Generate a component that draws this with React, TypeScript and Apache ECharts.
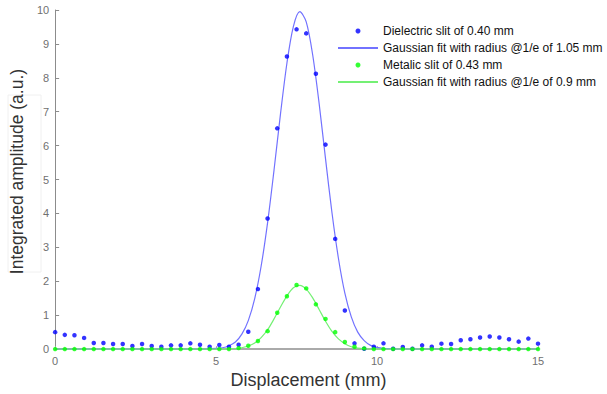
import { useEffect, useRef } from "react";
import * as echarts from "echarts";

// Scan positions (mm), one sample every 0.3 mm
const displacement = [
  0, 0.3, 0.6, 0.9, 1.2, 1.5, 1.8, 2.1, 2.4, 2.7, 3, 3.3, 3.6, 3.9, 4.2, 4.5, 4.8,
  5.1, 5.4, 5.7, 6, 6.3, 6.6, 6.9, 7.2, 7.5, 7.8, 8.1, 8.4, 8.7, 9, 9.3, 9.6, 9.9,
  10.2, 10.5, 10.8, 11.1, 11.4, 11.7, 12, 12.3, 12.6, 12.9, 13.2, 13.5, 13.8, 14.1,
  14.4, 14.7, 15,
];

// Measured integrated amplitude, dielectric slit 0.40 mm
const dielectric = [
  0.5, 0.42, 0.41, 0.33, 0.18, 0.18, 0.15, 0.15, 0.09, 0.15, 0.09, 0.07, 0.11, 0.11,
  0.17, 0.13, 0.07, 0.12, 0.07, 0.13, 0.51, 1.77, 3.85, 6.51, 8.63, 9.43, 9.31, 8.12,
  6.03, 3.25, 1.14, 0.17, 0.01, 0.07, 0.17, 0.01, 0.06, 0.01, 0.11, 0.07, 0.16, 0.15,
  0.26, 0.29, 0.34, 0.37, 0.34, 0.29, 0.22, 0.31, 0.16,
];

// Measured integrated amplitude, metallic slit 0.43 mm
const metallic = [
  0, 0, 0, 0, 0, 0, 0, 0, 0, 0, 0, 0, 0, 0, 0, 0, 0, 0, 0, 0.03, 0.1, 0.24, 0.53, 1.07,
  1.56, 1.89, 1.79, 1.32, 0.89, 0.5, 0.21, 0.07, 0.02, 0, 0, 0, 0, 0, 0, 0, 0, 0, 0, 0,
  0, 0, 0, 0, 0, 0, 0,
];

// Gaussian fit curve, dielectric slit (radius @1/e 1.05 mm)
const dielectricFitX = [
  0, 4.6, 4.8, 5.0, 5.2, 5.4, 5.6, 5.8, 6.0, 6.2, 6.4, 6.6, 6.8, 7.0, 7.2, 7.4, 7.6,
  7.8, 8.0, 8.2, 8.4, 8.6, 8.8, 9.0, 9.2, 9.4, 9.6, 9.8, 10.0, 10.2, 10.4, 10.6, 15,
];
const dielectricFitY = [
  0, 0, 0.01, 0.02, 0.04, 0.1, 0.21, 0.44, 0.84, 1.49, 2.45, 3.73, 5.28, 6.93, 8.43,
  9.51, 9.95, 9.65, 8.68, 7.25, 5.61, 4.02, 2.68, 1.65, 0.95, 0.5, 0.25, 0.11, 0.05,
  0.02, 0.01, 0, 0,
];

// Gaussian fit curve, metallic slit (radius @1/e 0.9 mm)
const metallicFitX = [
  0, 5.2, 5.4, 5.6, 5.8, 6.0, 6.2, 6.4, 6.6, 6.8, 7.0, 7.2, 7.4, 7.6, 7.8, 8.0, 8.2,
  8.4, 8.6, 8.8, 9.0, 9.2, 9.4, 9.6, 9.8, 10.0, 15,
];
const metallicFitY = [
  0, 0, 0.01, 0.01, 0.04, 0.09, 0.18, 0.34, 0.57, 0.89, 1.24, 1.57, 1.81, 1.88, 1.77,
  1.51, 1.17, 0.82, 0.52, 0.3, 0.16, 0.07, 0.03, 0.01, 0, 0, 0,
];

const seriesNames = [
  "Dielectric slit of 0.40 mm",
  "Gaussian fit with radius @1/e of 1.05 mm",
  "Metalic slit of 0.43 mm",
  "Gaussian fit with radius @1/e of 0.9 mm",
];

const pairs = (xs: number[], ys: number[]) => xs.map((x, i) => [x, ys[i]]);

// Legend entry for a fit curve: plain line, no marker in the middle
const lineOnly = { opacity: 0, color: "rgba(0,0,0,0)", borderWidth: 0 };

export default function App() {
  const ref = useRef<HTMLDivElement>(null);

  useEffect(() => {
    const chart = echarts.init(ref.current!, null, { renderer: "svg" });
    chart.setOption({
      animation: false,
      backgroundColor: "#ffffff",
      textStyle: { fontFamily: "'Liberation Sans', Arial, sans-serif" },
      grid: { left: 53, right: 69, top: 10, bottom: 39 },
      legend: {
        orient: "vertical",
        left: 337,
        top: 24,
        padding: 0,
        itemWidth: 40,
        itemHeight: 5,
        itemGap: 3,
        selectedMode: false,
        textStyle: { fontSize: 12, color: "#111111", lineHeight: 14 },
        data: [
          { name: seriesNames[0], icon: "circle" },
          { name: seriesNames[1], itemStyle: lineOnly },
          { name: seriesNames[2], icon: "circle" },
          { name: seriesNames[3], itemStyle: lineOnly },
        ],
      },
      graphic: [
        {
          type: "rect",
          z: -1,
          shape: { x: 8, y: 95, width: 33, height: 177 },
          style: { fill: "none", stroke: "#f0f0f0", lineWidth: 1 },
        },
      ],
      xAxis: {
        type: "value",
        min: 0,
        max: 15,
        interval: 5,
        name: "Displacement (mm)",
        nameLocation: "middle",
        nameGap: 16,
        nameTextStyle: { fontSize: 18, color: "#333333", padding: [0, 0, 0, 24] },
        axisLine: { show: true, lineStyle: { color: "#aaaaaa", width: 2 } },
        axisTick: { show: true, inside: true, length: 3, lineStyle: { color: "#aaaaaa" } },
        axisLabel: { color: "#707070", fontSize: 11, margin: 6 },
        splitLine: { show: false },
      },
      yAxis: {
        type: "value",
        min: 0,
        max: 10,
        interval: 1,
        name: "Integrated amplitude (a.u.)",
        nameLocation: "middle",
        nameGap: 22,
        nameTextStyle: { fontSize: 17.5, color: "#333333", padding: [0, 0, 0, 16] },
        axisLine: { show: true, lineStyle: { color: "#8c8c8c", width: 1 } },
        axisTick: { show: true, inside: true, length: 4, lineStyle: { color: "#8c8c8c" } },
        axisLabel: { color: "#707070", fontSize: 11, margin: 6 },
        splitLine: { show: false },
      },
      series: [
        {
          name: seriesNames[0],
          type: "scatter",
          symbol: "circle",
          symbolSize: 4.5,
          itemStyle: { color: "#0000ff" },
          data: pairs(displacement, dielectric),
          z: 3,
        },
        {
          name: seriesNames[1],
          type: "line",
          symbol: "none",
          showSymbol: false,
          smooth: 0.3,
          lineStyle: { color: "#7272ff", width: 1.2 },
          itemStyle: { color: "#7272ff" },
          data: pairs(dielectricFitX, dielectricFitY),
          z: 2,
        },
        {
          name: seriesNames[2],
          type: "scatter",
          symbol: "circle",
          symbolSize: 4.5,
          itemStyle: { color: "#00ff00" },
          data: pairs(displacement, metallic),
          z: 5,
        },
        {
          name: seriesNames[3],
          type: "line",
          symbol: "none",
          showSymbol: false,
          smooth: 0.3,
          lineStyle: { color: "#74f074", width: 1.2 },
          itemStyle: { color: "#74f074" },
          data: pairs(metallicFitX, metallicFitY),
          z: 4,
        },
      ],
    });
    return () => chart.dispose();
  }, []);

  return (
    <div
      ref={ref}
      style={{ position: "fixed", left: 0, top: 0, width: 607, height: 394, background: "#fff" }}
    />
  );
}
